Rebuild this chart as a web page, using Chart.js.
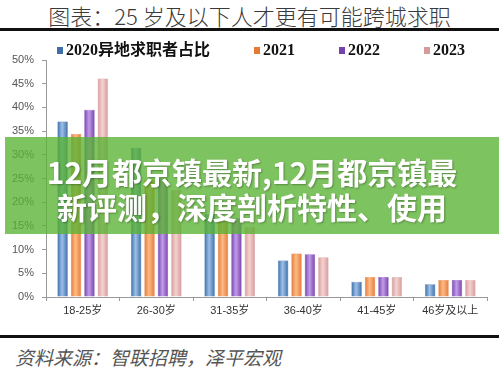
<!DOCTYPE html>
<html>
<head>
<meta charset="UTF-8">
<title>25岁及以下人才更有可能跨城求职</title>
<script src="https://cdn.jsdelivr.net/npm/chart.js"></script>
<style>
  body { margin: 0; width: 499px; height: 372px; position: relative; background: #fff; overflow: hidden; font-family: "Noto Sans CJK SC", sans-serif; }
  .title { position: absolute; top: 2px; left: 0; width: 499px; text-align: center; font-size: 22px; font-weight: 300; color: #3a3a3a; line-height: 26px; }
  .rule { position: absolute; left: 0; width: 499px; height: 3px; background: #111; }
  #chartWrap { position: absolute; left: 0; top: 0; width: 499px; height: 330px; }
  .legend { position: absolute; top: 40px; left: 57px; display: flex; gap: 44px; font-family: "Liberation Serif", "Noto Sans CJK SC", serif; font-weight: bold; font-size: 16px; color: #111; line-height: 20px; }
  .legend span.box { display: inline-block; width: 6px; height: 7px; margin-right: 3px; vertical-align: 1px; }
  .footer { position: absolute; top: 345px; left: 15px; font-size: 19px; font-style: italic; color: #555; line-height: 24px; }
  .banner { position: absolute; top: 137px; left: 5px; width: 494px; height: 80px; padding-top: 17px; background: rgba(88, 178, 50, 0.78); color: #fff; font-weight: bold; font-size: 30px; line-height: 35px; text-align: center; text-shadow: 1px 1px 2px rgba(0,0,0,0.3); }
</style>
</head>
<body>
<div class="title">图表：25 岁及以下人才更有可能跨城求职</div>
<div class="rule" style="top:28px"></div>
<div id="chartWrap"><canvas id="myChart" width="499" height="330"></canvas></div>
<div class="legend" id="legend"></div>
<div class="rule" style="top:335px"></div>
<div class="footer">资料来源：智联招聘，泽平宏观</div>
<div class="banner">12月都京镇最新,12月都京镇最<br>新评测，深度剖析特性、使用</div>

<script>
  const categories = ["18-25岁", "26-30岁", "31-35岁", "36-40岁", "41-45岁", "46岁及以上"];
  const seriesNames = ["2020异地求职者占比", "2021", "2022", "2023"];
  const values2020 = [37.0, 31.5, 17.5, 7.7, 3.2, 2.7];
  const values2021 = [34.4, 24.7, 16.8, 9.2, 4.2, 3.6];
  const values2022 = [39.5, 25.0, 16.6, 9.0, 4.2, 3.6];
  const values2023 = [46.1, 22.6, 14.8, 8.4, 4.2, 3.6];
  const yTicks = [0, 5, 10, 15, 20, 25, 30, 35, 40, 45, 50];

  // dark edge / light centre for the tube look
  const colors = [
    ["#3d6ea8", "#9cc0e8"],
    ["#e57a36", "#fcbb86"],
    ["#7543ae", "#c29ce8"],
    ["#d69b99", "#f3d2d1"]
  ];

  const catPct = 0.73;
  const barPct = 0.78;

  function barGradient(context) {
    const chart = context.chart;
    const pair = colors[context.datasetIndex];
    const xScale = chart.scales.x;
    if (!xScale || context.dataIndex === undefined) return pair[0];
    const catW = xScale.width / categories.length;
    const slot = catW * catPct / 4;
    const center = xScale.getPixelForValue(context.dataIndex) + (context.datasetIndex - 1.5) * slot;
    const half = slot * barPct / 2;
    if (!isFinite(center) || !isFinite(half) || half <= 0) return pair[0];
    const g = chart.ctx.createLinearGradient(center - half, 0, center + half, 0);
    g.addColorStop(0, pair[0]);
    g.addColorStop(0.45, pair[1]);
    g.addColorStop(1, pair[0]);
    return g;
  }

  const allValues = [values2020, values2021, values2022, values2023];

  // html legend
  const legendEl = document.getElementById("legend");
  seriesNames.forEach((name, i) => {
    const item = document.createElement("div");
    item.innerHTML = '<span class="box" style="background:' + colors[i][0] + '"></span>' + name;
    legendEl.appendChild(item);
  });

  const ctx = document.getElementById("myChart").getContext("2d");
  new Chart(ctx, {
    type: "bar",
    data: {
      labels: categories,
      datasets: allValues.map((vals, i) => ({
        label: seriesNames[i],
        data: vals,
        backgroundColor: barGradient,
        borderColor: colors[i][0],
        borderWidth: 0.5,
        categoryPercentage: catPct,
        barPercentage: barPct
      }))
    },
    options: {
      responsive: false,
      animation: false,
      layout: { padding: { top: 60, right: 12, bottom: 3, left: 0 } },
      plugins: {
        legend: { display: false },
        tooltip: { enabled: false }
      },
      scales: {
        x: {
          afterFit: function(s) { s.height = 30; },
          grid: { display: true, drawOnChartArea: false, drawTicks: true, tickLength: 4, offset: true, color: "#999" },
          border: { color: "#999" },
          ticks: { padding: 3, color: "#333", font: { family: "Liberation Sans, Noto Sans CJK SC", size: 11 } }
        },
        y: {
          min: 0,
          max: 50,
          afterFit: function(s) { s.width = 46; },
          afterBuildTicks: function(s) { s.ticks = yTicks.map(v => ({ value: v })); },
          grid: { display: true, drawOnChartArea: false, drawTicks: true, tickLength: 4, color: "#999" },
          border: { color: "#999" },
          ticks: {
            padding: 8,
            color: "#555",
            font: { family: "Liberation Sans", size: 11 },
            callback: function(value) { return value + "%"; }
          }
        }
      }
    }
  });
</script>
</body>
</html>
